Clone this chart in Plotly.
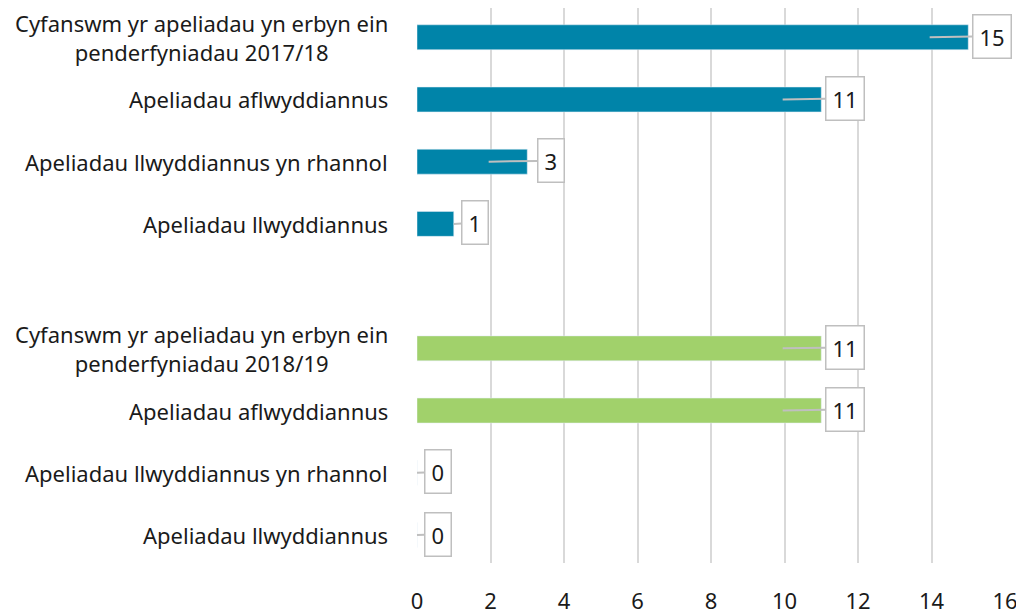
import plotly.graph_objects as go

# Data
labels_1718 = ["Cyfanswm yr apeliadau yn erbyn ein<br>penderfyniadau 2017/18",
               "Apeliadau aflwyddiannus",
               "Apeliadau llwyddiannus yn rhannol",
               "Apeliadau llwyddiannus"]
values_1718 = [15, 11, 3, 1]
labels_1819 = ["Cyfanswm yr apeliadau yn erbyn ein<br>penderfyniadau 2018/19",
               "Apeliadau aflwyddiannus",
               "Apeliadau llwyddiannus yn rhannol",
               "Apeliadau llwyddiannus"]
values_1819 = [11, 11, 0, 0]
x_ticks = [0, 2, 4, 6, 8, 10, 12, 14, 16]

COLOR_1 = "#0084A9"
COLOR_2 = "#A1D16B"
FONT = "Noto Sans"
FS = 22

# row positions: first group, gap row, second group
rows_1 = list(range(len(values_1718)))
rows_2 = [len(values_1718) + 1 + i for i in range(len(values_1819))]

fig = go.Figure()
fig.add_trace(go.Bar(x=values_1718, y=rows_1, orientation="h", marker_color=COLOR_1,
                     width=0.4, hoverinfo="x"))
fig.add_trace(go.Bar(x=values_1819, y=rows_2, orientation="h", marker_color=COLOR_2,
                     width=0.4, hoverinfo="x"))

annotations = []
for labs, vals, rows in [(labels_1718, values_1718, rows_1), (labels_1819, values_1819, rows_2)]:
    for lab, v, r in zip(labs, vals, rows):
        annotations.append(dict(
            x=0, xref="paper", y=r, yref="y", text=lab, showarrow=False,
            xanchor="right", yanchor="middle", xshift=-27, align="center",
            font=dict(family=FONT, size=FS, color="#1a1a1a")))
        big = v >= 2
        tip = v - 1.05 if big else v
        annotations.append(dict(
            x=tip, y=r, xref="x", yref="y", text=str(v), showarrow=True,
            arrowhead=0, arrowcolor="#BFBFBF", arrowwidth=2,
            ax=62 if big else 21, ay=-1,
            bordercolor="#BFBFBF", borderwidth=1.5, borderpad=6, bgcolor="white",
            font=dict(family=FONT, size=FS, color="#1a1a1a")))

n_rows = len(rows_1) + len(rows_2) + 1
fig.update_layout(
    width=1016, height=606,
    margin=dict(l=409, r=19, t=0, b=51, autoexpand=False),
    plot_bgcolor="white", paper_bgcolor="white",
    showlegend=False,
    annotations=annotations,
    font=dict(family=FONT, size=FS, color="#1a1a1a"),
)
fig.update_xaxes(range=[0, 16], tickvals=x_ticks, showgrid=True, gridcolor="#D9D9D9",
                 gridwidth=2, zeroline=False, showline=False, ticks="", automargin=False,
                 ticklabelstandoff=23, tickfont=dict(family=FONT, size=FS, color="#1a1a1a"))
fig.update_yaxes(range=[n_rows - 1 + 0.45, -0.47], showticklabels=False, automargin=False,
                 showgrid=False, zeroline=False, showline=False)

fig.write_html("out.html")
